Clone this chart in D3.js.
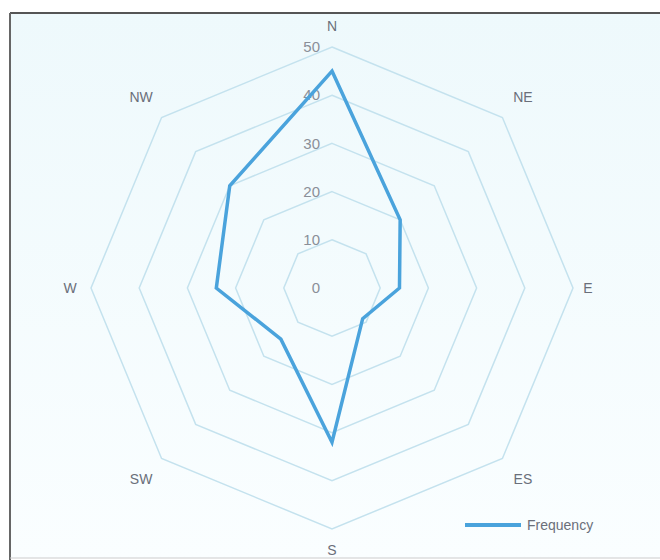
<!DOCTYPE html>
<html><head><meta charset="utf-8">
<script src="https://cdn.jsdelivr.net/npm/d3@7"></script>
<style>body{margin:0;background:#fff}svg{display:block}</style>
</head><body>
<svg id="c" width="660" height="560"></svg>
<script>
const directions = ["N","NE","E","ES","S","SW","W","NW"];
const frequency = [45, 20, 14, 9, 32, 15, 24, 30];
const ringTicks = [0, 10, 20, 30, 40, 50];
const seriesName = "Frequency";

const svg = d3.select("#c");
const cx = 332, cy = 288, R = 241;
const bg = svg.append("defs").append("linearGradient").attr("id","bg").attr("x1",0).attr("y1",0).attr("x2",0).attr("y2",1);
bg.append("stop").attr("offset","0%").attr("stop-color","#eef9fc");
bg.append("stop").attr("offset","100%").attr("stop-color","#fafeff");
svg.append("rect").attr("x",10).attr("y",13).attr("width",650).attr("height",545).attr("fill","url(#bg)");
svg.append("line").attr("x1",10).attr("y1",13).attr("x2",660).attr("y2",13).attr("stroke","#555").attr("stroke-width",2);
svg.append("line").attr("x1",10).attr("y1",13).attr("x2",10).attr("y2",560).attr("stroke","#666").attr("stroke-width",2);
svg.append("line").attr("x1",10).attr("y1",558).attr("x2",660).attr("y2",558).attr("stroke","#ccc").attr("stroke-width",1);

const r = d3.scaleLinear().domain([0, 50]).range([0, R]);
const angle = d3.scalePoint().domain(directions).range([0, 2*Math.PI*(7/8)]);
const pt = (d, v) => { const a = angle(d) - Math.PI/2; return [cx + r(v)*Math.cos(a), cy + r(v)*Math.sin(a)]; };

const g = svg.append("g");
ringTicks.slice(1).forEach(t => {
  g.append("path")
    .attr("d", d3.line().curve(d3.curveLinearClosed)(directions.map(d => pt(d, t))))
    .attr("fill","none").attr("stroke","#c4e2ee").attr("stroke-width",1.5);
});
ringTicks.forEach(t => {
  g.append("text").attr("x", cx - 12).attr("y", cy - r(t)).attr("dy","0.35em")
    .attr("text-anchor","end").attr("font-family","Liberation Sans, Arial, sans-serif")
    .attr("font-size",15).attr("fill","#8a8f98").text(t);
});
directions.forEach(d => {
  const diag = d.length === 2;
  const a = angle(d) - Math.PI/2;
  const lr = diag ? R + 29 : (d === "E" ? R + 15 : R + 21);
  g.append("text").attr("x", cx + lr*Math.cos(a)).attr("y", cy + lr*Math.sin(a)).attr("dy","0.35em")
    .attr("text-anchor","middle").attr("font-family","Liberation Sans, Arial, sans-serif")
    .attr("font-size",14).attr("fill","#6a6f7a").text(d);
});
g.append("path")
  .attr("d", d3.line().curve(d3.curveLinearClosed)(directions.map((d,i) => pt(d, frequency[i]))))
  .attr("fill","none").attr("stroke","#4aa3dc").attr("stroke-width",3.5).attr("stroke-linejoin","miter");
svg.append("line").attr("x1",465).attr("y1",525).attr("x2",521).attr("y2",525).attr("stroke","#4aa3dc").attr("stroke-width",4);
svg.append("text").attr("x",527).attr("y",525).attr("dy","0.35em").attr("font-family","Liberation Sans, Arial, sans-serif")
  .attr("font-size",14).attr("fill","#6a6f7a").text(seriesName);
</script>
</body></html>
